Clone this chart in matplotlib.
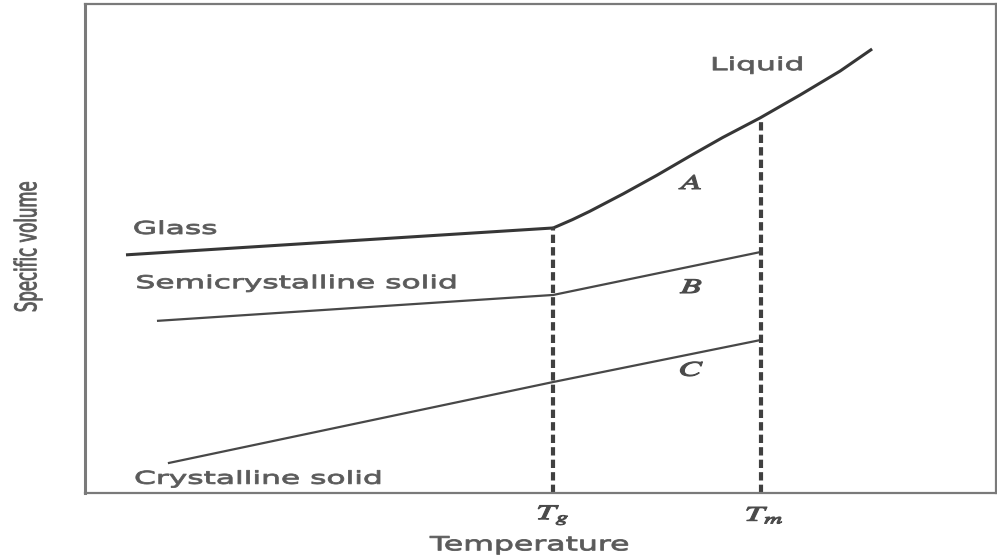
import matplotlib
matplotlib.use("Agg")
from matplotlib import pyplot as plt
from matplotlib.patheffects import AbstractPathEffect
from matplotlib.transforms import Affine2D

# Temperature / specific volume values (arbitrary units, 0-100)
T_g = 51.4
T_m = 74.2

glass_T = [4.5, T_g]
glass_V = [48.7, 54.2]

liquid_T = [T_g, 53.5, 55.4, 59.1, 62.8, 66.4, 70.0, 74.1, 78.5, 82.9, 86.4]
liquid_V = [54.2, 55.9, 57.6, 61.2, 65.0, 68.9, 72.7, 76.7, 81.4, 86.3, 90.8]

semi_T = [7.9, T_g, T_m]
semi_V = [35.2, 40.5, 49.3]

cryst_T = [9.1, T_g, T_m]
cryst_V = [6.1, 22.7, 31.3]

# top of the dashed guide lines
tg_top = 54.2
tm_top = 76.3

region_labels = ["$A$", "$B$", "$C$"]
region_V = [63.4, 42.1, 25.2]


class Stretch(AbstractPathEffect):
    """ Stretch glyphs horizontally (in display space) about their centre,
    with a thin outline to make them a bit heavier """

    def __init__(self, sx, stroke=0.6):
        super().__init__()
        self.sx = sx
        self.stroke = stroke

    def draw_path(self, renderer, gc, tpath, affine, rgbFace=None):
        ext = tpath.get_extents(affine)
        cx = (ext.x0 + ext.x1) / 2
        cy = (ext.y0 + ext.y1) / 2
        st = Affine2D().translate(-cx, -cy).scale(self.sx, 1).translate(cx, cy)
        gc0 = renderer.new_gc()
        gc0.copy_properties(gc)
        gc0.set_linewidth(self.stroke)
        if rgbFace is not None:
            gc0.set_foreground(rgbFace)
        renderer.draw_path(gc0, tpath, affine + st, rgbFace)
        gc0.restore()


plt.rcParams["mathtext.fontset"] = "stix"
plt.rcParams["lines.scale_dashes"] = False

fig = plt.figure(figsize=(9.97, 5.57), dpi=100)
ax = fig.add_axes([85 / 997, (557 - 493) / 557, (996 - 85) / 997, (493 - 4) / 557])
ax.set_xlim(0, 100)
ax.set_ylim(0, 100)
ax.set_xticks([])
ax.set_yticks([])
for side, sp in ax.spines.items():
    sp.set_color("#7a7a7a")
    sp.set_linewidth(1.6)
ax.spines["left"].set_linewidth(2.2)

line_dark = "#363636"
line_mid = "#484848"
text_col = "#5a5a5a"

ax.plot(glass_T, glass_V, color=line_dark, lw=2.2, solid_capstyle="butt")
ax.plot(liquid_T, liquid_V, color=line_dark, lw=2.2, solid_capstyle="butt",
        solid_joinstyle="round")
ax.plot(semi_T, semi_V, color=line_mid, lw=1.6, solid_capstyle="butt")
ax.plot(cryst_T, cryst_V, color=line_mid, lw=1.6, solid_capstyle="butt")

# dashed guides at Tg and Tm
ax.plot([T_g, T_g], [0, tg_top], color="#404040", lw=3.0, dashes=(6, 3))
ax.plot([T_m, T_m], [0, tm_top], color="#404040", lw=3.0, dashes=(6, 3))

pe = [Stretch(1.76)]
kw = dict(color=text_col, fontsize=12.8, ha="center", va="center", path_effects=pe)

ax.text(9.9, 54.0, "Glass", **kw)
ax.text(23.2, 42.9, "Semicrystalline solid", **kw)
ax.text(19.0, 2.9, "Crystalline solid", **kw)
ax.text(73.8, 87.5, "Liquid", **kw)

for lab, v in zip(region_labels, region_V):
    ax.text(66.6, v, lab, color="#4a4a4a", fontsize=15, ha="center", va="center",
            path_effects=[Stretch(1.7, 0.8)])

ax.text(T_g, -4.6, "$T_g$", color="#4a4a4a", fontsize=15, ha="center", va="center",
        path_effects=[Stretch(1.7, 0.8)], clip_on=False)
ax.text(T_m + 0.4, -4.6, "$T_m$", color="#4a4a4a", fontsize=15, ha="center", va="center",
        path_effects=[Stretch(1.7, 0.8)], clip_on=False)

ax.text(48.8, -10.6, "Temperature", color=text_col, fontsize=14, ha="center", va="center",
        path_effects=[Stretch(1.62)], clip_on=False)
ax.text(-6.3, 50.3, "Specific volume", color=text_col, fontsize=11.9, rotation=90,
        ha="center", va="center", path_effects=[Stretch(1.8)], clip_on=False)

fig.savefig("out.png", dpi=100)
